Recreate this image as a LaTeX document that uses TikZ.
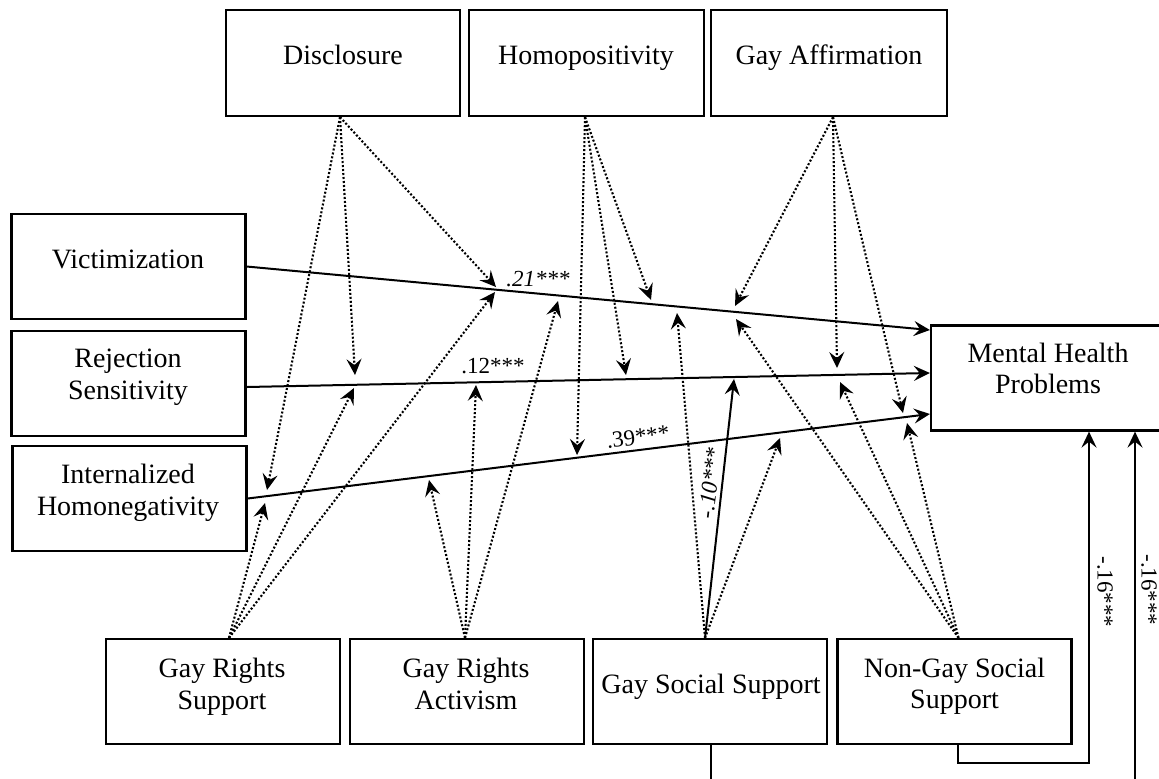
\documentclass[tikz,border=0pt]{standalone}
\usepackage{fontspec}
\setmainfont{Liberation Serif}
\usetikzlibrary{arrows.meta}
\begin{document}
\begin{tikzpicture}[x=0.5pt,y=-0.5pt,
  box/.style={draw, line width=1.1pt, minimum width=117pt, minimum height=52.5pt, inner sep=0pt},
  txt/.style={font=\fontsize{14}{16}\selectfont, inner sep=0pt, anchor=base},
  coef/.style={font=\fontsize{11.5}{13}\selectfont, inner sep=0pt},
  tip/.style={-{Stealth[length=8pt,width=7.5pt,inset=3pt]}},
  path/.style={tip, line width=1pt},
  mod/.style={tip, line width=1.05pt, dash pattern=on 1pt off 1pt}
]
\useasboundingbox (0,0) rectangle (1159,778);
\clip (0,0) rectangle (1159,778);

% moderator boxes on top
\node[box, minimum height=53pt] (dis) at (343,63) {};
\node[box, minimum height=53pt, minimum width=117.5pt] (hom) at (586.5,63) {};
\node[box, minimum height=53pt, minimum width=118pt] (aff) at (829,63) {};
\node[txt] (disT) at (343,64) {Disclosure};
\node[txt] (homT) at (586,64) {Homopositivity};
\node[txt] (affT) at (829,64) {Gay Affirmation};

% predictors
\node[box] (vic) at (128.5,266.5) {};
\node[box] (rej) at (128.5,383.5) {};
\node[box] (int) at (129.5,498.5) {};
\node[txt] (vicT) at (128,268) {Victimization};
\node[txt] (rejT1) at (128,367) {Rejection};
\node[txt] (rejT2) at (128,399) {Sensitivity};
\node[txt] (intT1) at (128,483) {Internalized};
\node[txt] (intT2) at (128,515) {Homonegativity};

% outcome
\node[box] (mhp) at (1048,378) {};
\node[txt] (mhpT1) at (1048,362) {Mental Health};
\node[txt] (mhpT2) at (1048,393) {Problems};

% moderator boxes at the bottom
\node[box] (grs) at (223,691.5) {};
\node[box] (gra) at (467,691.5) {};
\node[box] (gss) at (710,691.5) {};
\node[box] (ngs) at (954.5,691.5) {};
\node[txt] (grsT1) at (222,677) {Gay Rights};
\node[txt] (grsT2) at (222,709) {Support};
\node[txt] (graT1) at (466,677) {Gay Rights};
\node[txt] (graT2) at (466,709) {Activism};
\node[txt] (gssT) at (711,693) {Gay Social Support};
\node[txt] (ngsT1) at (954.5,677) {Non-Gay Social};
\node[txt] (ngsT2) at (954.5,708) {Support};

% main paths
\draw[path] (vic.east) -- ([yshift=24pt]mhp.west);
\draw[path] ([yshift=-1.75pt]rej.east) -- ([yshift=2.5pt]mhp.west);
\draw[path] (int.east) -- ([yshift=-18pt]mhp.west);

% points where the moderation arrows meet the paths
\coordinate (vDis) at (496,287);
\coordinate (vGrs) at (495,292);
\coordinate (vGra) at (558,301);
\coordinate (vHom) at (651,300);
\coordinate (vGss) at (677,313);
\coordinate (vAff) at (735,306);
\coordinate (vNgs) at (736,319);
\coordinate (rDis) at (355,375);
\coordinate (rGrs) at (354,388);
\coordinate (rGra) at (476,385);
\coordinate (rHom) at (626,375);
\coordinate (rGss) at (734,379);
\coordinate (rAff) at (837,368);
\coordinate (rNgs) at (840,382);
\coordinate (iDis) at (267,490);
\coordinate (iGrs) at (265,503);
\coordinate (iGra) at (429,480);
\coordinate (iHom) at (577,455);
\coordinate (iGss) at (780,438);
\coordinate (iAff) at (903,413);
\coordinate (iNgs) at (907,423);

% moderation from above
\draw[mod] ([xshift=-1.5pt]dis.south) -- (vDis);
\draw[mod] ([xshift=-1.5pt]dis.south) -- (rDis);
\draw[mod] ([xshift=-1.5pt]dis.south) -- (iDis);
\draw[mod] ([xshift=-0.75pt]hom.south) -- (vHom);
\draw[mod] ([xshift=-0.75pt]hom.south) -- (rHom);
\draw[mod] ([xshift=-0.75pt]hom.south) -- (iHom);
\draw[mod] ([xshift=2pt]aff.south) -- (vAff);
\draw[mod] ([xshift=2pt]aff.south) -- (rAff);
\draw[mod] ([xshift=2pt]aff.south) -- (iAff);

% moderation from below
\draw[mod] ([xshift=3pt]grs.north) -- (vGrs);
\draw[mod] ([xshift=3pt]grs.north) -- (rGrs);
\draw[mod] ([xshift=3pt]grs.north) -- (iGrs);
\draw[mod] ([xshift=-1pt]gra.north) -- (vGra);
\draw[mod] ([xshift=-1pt]gra.north) -- (rGra);
\draw[mod] ([xshift=-1pt]gra.north) -- (iGra);
\draw[mod] ([xshift=-2.5pt]gss.north) -- (vGss);
\draw[path] ([xshift=-2.5pt]gss.north) -- (rGss);
\draw[mod] ([xshift=-2.5pt]gss.north) -- (iGss);
\draw[mod] ([xshift=2pt]ngs.north) -- (vNgs);
\draw[mod] ([xshift=2pt]ngs.north) -- (rNgs);
\draw[mod] ([xshift=2pt]ngs.north) -- (iNgs);

% direct effects of social support
\draw[path] ([xshift=1.75pt]ngs.south) -- ++(0,18) -| ([xshift=20.5pt]mhp.south);
\draw[path] ([xshift=0.5pt]gss.south) -- ++(0,60) -| ([xshift=43.5pt]mhp.south);

% coefficients
\node[coef, font=\fontsize{11.5}{13}\selectfont\itshape] (c21) at (538,279) {.21***};
\node[coef] (c12) at (493,366) {.12***};
\node[coef, rotate=7] (c39) at (638,437) {.39***};
\node[coef, font=\fontsize{11.5}{13}\selectfont\itshape, rotate=83] (c10) at (710,483) {-.10***};
\node[coef, rotate=-90] (c16a) at (1105,592) {-.16***};
\node[coef, rotate=-90] (c16b) at (1149,590) {-.16***};
\end{tikzpicture}
\end{document}
